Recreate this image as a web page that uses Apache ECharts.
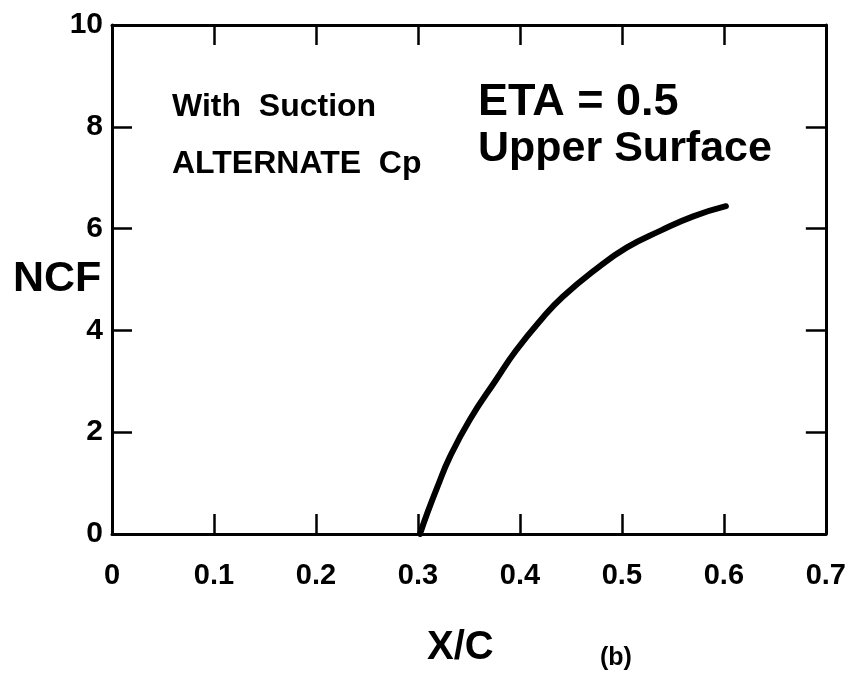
<!DOCTYPE html>
<html>
<head>
<meta charset="utf-8">
<script src="https://cdn.jsdelivr.net/npm/echarts@6/dist/echarts.min.js"></script>
<style>html,body{margin:0;padding:0;background:#fff}#c{width:849px;height:682px}</style>
</head>
<body>
<div id="c"></div>
<script>
var xcVals  = [0.302, 0.309, 0.319, 0.331, 0.351, 0.377, 0.396, 0.422, 0.442, 0.473, 0.505, 0.538, 0.570, 0.602];
var ncfVals = [0.00,  0.40,  0.92,  1.50,  2.25,  3.04,  3.60,  4.24,  4.66,  5.18,  5.63,  5.96,  6.24,  6.44];
var xTickLabels = ['0', '0.1', '0.2', '0.3', '0.4', '0.5', '0.6', '0.7'];
var yTickLabels = ['0', '2', '4', '6', '8', '10'];
var noteLines = ['With  Suction', 'ALTERNATE  Cp'];
var titleLines = ['ETA = 0.5', 'Upper Surface'];

var F = '"Liberation Sans", Arial, Helvetica, sans-serif';
var chart = echarts.init(document.getElementById('c'), null, {renderer: 'canvas'});
var pts = xcVals.map(function (x, i) { return [x, ncfVals[i]]; });
var axisLine = {show: true, onZero: false, lineStyle: {color: '#000', width: 3}};
var tick = {show: true, inside: true, length: 20, lineStyle: {color: '#000', width: 2.5}};

chart.setOption({
  backgroundColor: '#fff',
  animation: false,
  grid: {left: 112, top: 25, right: 13, bottom: 148, containLabel: false},
  xAxis: [{
    type: 'value', min: 0, max: 0.7, interval: 0.1, position: 'bottom',
    axisLine: axisLine, axisTick: tick, splitLine: {show: false},
    axisLabel: {
      margin: 27, color: '#000', fontFamily: F, fontWeight: 'bold', fontSize: 29,
      formatter: function (v) { return xTickLabels[Math.round(v * 10)]; }
    }
  }, {
    type: 'value', min: 0, max: 0.7, interval: 0.1, position: 'top',
    axisLine: axisLine, axisTick: tick, splitLine: {show: false}, axisLabel: {show: false}
  }],
  yAxis: [{
    type: 'value', min: 0, max: 10, interval: 2, position: 'left',
    axisLine: axisLine, axisTick: tick, splitLine: {show: false},
    axisLabel: {
      margin: 9, color: '#000', fontFamily: F, fontWeight: 'bold', fontSize: 30,
      padding: [0, 0, 8, 0],
      formatter: function (v) { return yTickLabels[Math.round(v / 2)]; }
    }
  }, {
    type: 'value', min: 0, max: 10, interval: 2, position: 'right',
    axisLine: axisLine, axisTick: tick, splitLine: {show: false}, axisLabel: {show: false}
  }],
  series: [{
    type: 'line', data: pts, smooth: 0.5, showSymbol: false,
    lineStyle: {color: '#000', width: 6, cap: 'round', join: 'round'}
  }],
  graphic: [
    {type: 'text', left: 172, top: 91, style: {text: noteLines[0], font: 'bold 32px ' + F, fill: '#000'}},
    {type: 'text', left: 172, top: 148, style: {text: noteLines[1], font: 'bold 32px ' + F, fill: '#000'}},
    {type: 'text', left: 478, top: 80, style: {text: titleLines[0], font: 'bold 45px ' + F, fill: '#000'}},
    {type: 'text', left: 478, top: 128, style: {text: titleLines[1], font: 'bold 43px ' + F, fill: '#000'}},
    {type: 'text', left: 13, top: 258, style: {text: 'NCF', font: 'bold 43px ' + F, fill: '#000'}},
    {type: 'text', left: 427, top: 628, style: {text: 'X/C', font: 'bold 40px ' + F, fill: '#000'}},
    {type: 'text', left: 600, top: 646, style: {text: '(b)', font: 'bold 25px ' + F, fill: '#000'}}
  ]
});
</script>
</body>
</html>
